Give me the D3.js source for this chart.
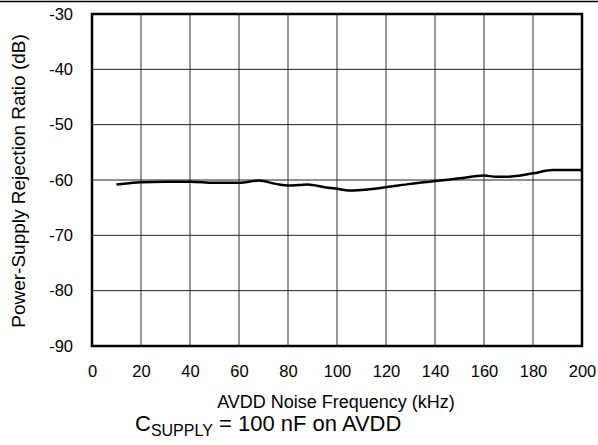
<!DOCTYPE html>
<html>
<head>
<meta charset="utf-8">
<script src="https://cdn.jsdelivr.net/npm/d3@7"></script>
<style>
  body { margin: 0; background: #fff; }
  text { font-family: "Liberation Sans", Arial, sans-serif; fill: #000; }
</style>
</head>
<body>
<div id="chart"></div>
<script>
// PSRR vs AVDD noise frequency

var freq = [10, 20, 30, 40, 50, 60, 68, 75, 80, 85, 88, 95, 100, 105, 110, 120, 130, 140, 150, 160, 165, 170, 180, 188, 200];
var psrr = [-60.8, -60.4, -60.3, -60.3, -60.5, -60.5, -60.1, -60.7, -61.0, -60.9, -60.8, -61.3, -61.6, -61.9, -61.8, -61.3, -60.7, -60.2, -59.7, -59.2, -59.4, -59.4, -58.8, -58.2, -58.2];
var xTicks = [0, 20, 40, 60, 80, 100, 120, 140, 160, 180, 200];
var yTicks = [-90, -80, -70, -60, -50, -40, -30];

var svgWidth = 598;
var svgHeight = 445;
var margin = { top: 14, right: 16, bottom: 99, left: 92 };
var width = svgWidth - margin.left - margin.right;
var height = svgHeight - margin.top - margin.bottom;

var svg = d3.select("#chart")
  .append("svg")
  .attr("width", svgWidth)
  .attr("height", svgHeight);

// rule at the very top
svg.append("line")
  .attr("x1", 0).attr("x2", svgWidth)
  .attr("y1", 1.5).attr("y2", 1.5)
  .attr("stroke", "#000")
  .attr("stroke-width", 1.5);

var chartGroup = svg.append("g")
  .attr("transform", `translate(${margin.left},${margin.top})`);

var xScale = d3.scaleLinear().domain([0, 200]).range([0, width]);
var yScale = d3.scaleLinear().domain([-90, -30]).range([height, 0]);

// grid
chartGroup.append("g")
  .selectAll("line")
  .data(xTicks)
  .enter()
  .append("line")
  .attr("x1", d => xScale(d)).attr("x2", d => xScale(d))
  .attr("y1", 0).attr("y2", height)
  .attr("stroke", "#333")
  .attr("stroke-width", 1);

chartGroup.append("g")
  .selectAll("line")
  .data(yTicks)
  .enter()
  .append("line")
  .attr("x1", 0).attr("x2", width)
  .attr("y1", d => yScale(d)).attr("y2", d => yScale(d))
  .attr("stroke", "#222")
  .attr("stroke-width", 1);

// axes (labels only), plain hyphen for negatives
var bottomAxis = d3.axisBottom(xScale).tickValues(xTicks).tickSize(0).tickPadding(19)
  .tickFormat(d => String(d));
var leftAxis = d3.axisLeft(yScale).tickValues(yTicks).tickSize(0).tickPadding(19)
  .tickFormat(d => String(d));

var xAxis = chartGroup.append("g")
  .attr("transform", `translate(0, ${height})`)
  .call(bottomAxis);
var yAxis = chartGroup.append("g").call(leftAxis);

[xAxis, yAxis].forEach(a => {
  a.select(".domain").remove();
  a.selectAll("text")
    .style("font-family", "'Liberation Sans', Arial, sans-serif")
    .style("font-size", "16.5px");
});

// frame
chartGroup.append("rect")
  .attr("width", width)
  .attr("height", height)
  .attr("fill", "none")
  .attr("stroke", "#000")
  .attr("stroke-width", 2.5);

// curve
var line = d3.line()
  .x((d, i) => xScale(freq[i]))
  .y(d => yScale(d))
  .curve(d3.curveMonotoneX);

chartGroup.append("path")
  .datum(psrr)
  .attr("d", line)
  .attr("fill", "none")
  .attr("stroke", "#000")
  .attr("stroke-width", 2.5);

// axis titles
svg.append("text")
  .attr("x", 336)
  .attr("y", 408)
  .attr("text-anchor", "middle")
  .style("font-size", "18px")
  .text("AVDD Noise Frequency (kHz)");

svg.append("text")
  .attr("transform", "rotate(-90)")
  .attr("x", -181)
  .attr("y", 25)
  .attr("text-anchor", "middle")
  .style("font-size", "19px")
  .text("Power-Supply Rejection Ratio (dB)");

var note = svg.append("text")
  .attr("x", 135)
  .attr("y", 431)
  .style("font-size", "22px");
note.append("tspan").text("C");
note.append("tspan")
  .attr("dy", 5)
  .style("font-size", "16px")
  .text("SUPPLY");
note.append("tspan")
  .attr("dy", -5)
  .text(" = 100 nF on AVDD");
</script>
</body>
</html>
